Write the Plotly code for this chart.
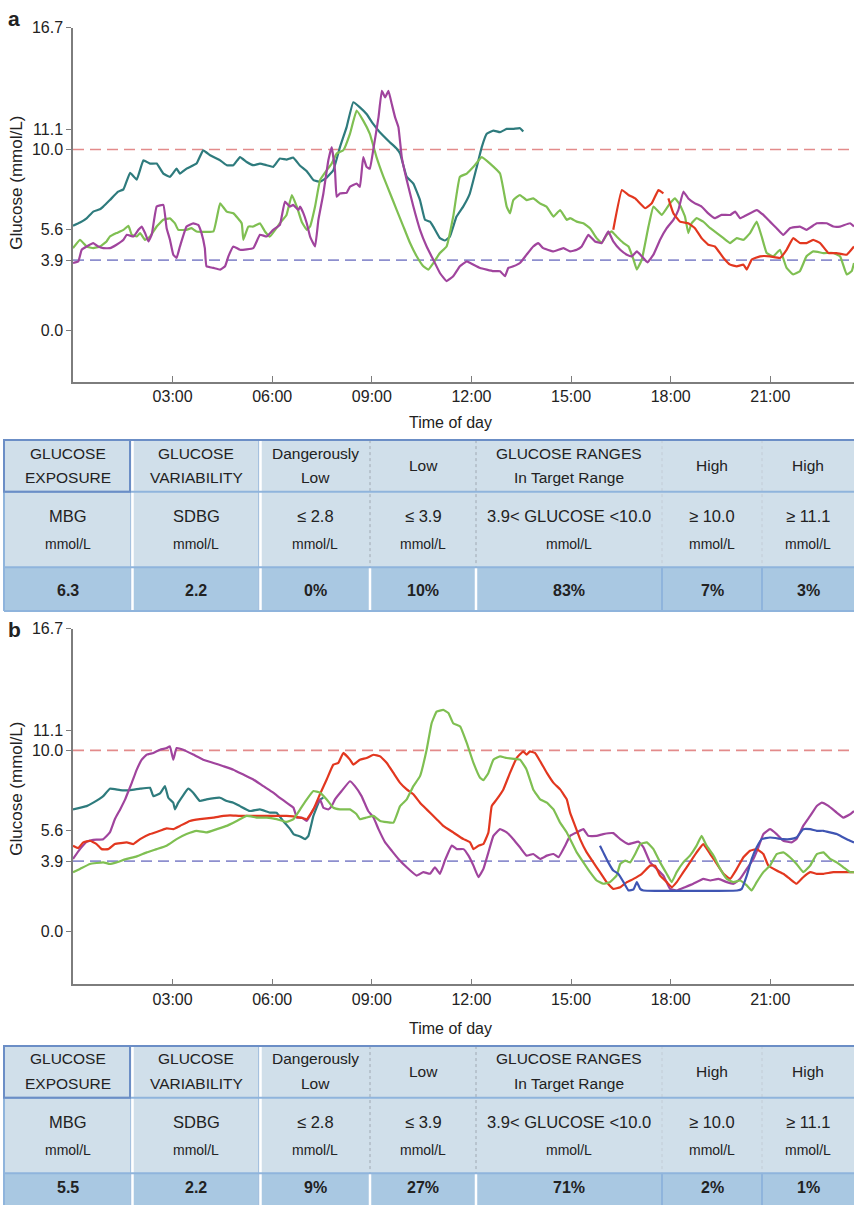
import plotly.graph_objects as go

W, H = 854, 1205
FONT = "Liberation Sans, Arial, Helvetica, sans-serif"

# ---------------- panel a: CGM traces (hour of day, mmol/L) ----------------
A_TEAL_T = [0.0, 0.21, 0.41, 0.61, 0.81, 0.91, 1.11, 1.36, 1.52, 1.72, 1.92, 2.12, 2.32, 2.52, 2.72,
            2.92, 3.12, 3.22, 3.42, 3.72, 3.92, 4.13, 4.43, 4.63, 4.83, 5.03, 5.23, 5.43, 5.63, 5.83,
            6.03, 6.23, 6.43, 6.63, 6.84, 7.04, 7.24, 7.44, 7.64, 7.84, 8.04, 8.24, 8.44, 8.64, 8.84,
            9.04, 9.24, 9.54, 9.75, 9.85, 10.05, 10.25, 10.45, 10.6, 10.75, 10.85, 11.05, 11.2, 11.35,
            11.55, 11.75, 11.95, 12.16, 12.31, 12.46, 12.66, 12.86, 13.06, 13.26, 13.46, 13.56]
A_TEAL_G = [5.8, 5.97, 6.2, 6.57, 6.7, 6.85, 7.21, 7.67, 7.8, 8.71, 8.34, 9.4, 9.22, 9.22, 8.67,
            8.49, 8.94, 8.67, 8.94, 9.22, 9.95, 9.68, 9.4, 9.13, 9.13, 9.58, 9.31, 9.13, 9.22, 9.13,
            9.04, 9.5, 9.44, 9.55, 9.1, 8.8, 8.31, 8.22, 8.45, 8.85, 10.13, 11.23, 12.6, 12.32, 11.95,
            11.41, 10.95, 10.4, 10.04, 9.77, 8.49, 8.12, 7.21, 6.12, 6.02, 5.75, 5.11, 4.98, 5.2,
            6.3, 6.85, 7.57, 9.04, 10.13, 10.86, 11.04, 10.95, 11.13, 11.13, 11.17, 10.99]

A_GREEN_T = [0.0, 0.21, 0.41, 0.61, 0.81, 1.01, 1.11, 1.31, 1.52, 1.67, 1.77, 1.92, 2.02, 2.17, 2.32,
             2.52, 2.72, 2.92, 3.07, 3.17, 3.42, 3.57, 3.72, 4.23, 4.43, 4.63, 4.83, 5.08, 5.13, 5.28,
             5.43, 5.63, 5.78, 5.93, 6.23, 6.43, 6.59, 6.74, 6.89, 7.04, 7.14, 7.29, 7.44, 7.64, 7.79,
             7.94, 8.14, 8.34, 8.54, 8.74, 8.94, 9.14, 9.35, 9.55, 9.75, 9.95, 10.15, 10.35, 10.55,
             10.7, 10.85, 11.05, 11.25, 11.45, 11.65, 11.86, 12.06, 12.31, 12.56, 12.86, 13.06, 13.16,
             13.26, 13.46, 13.66, 13.86, 14.06, 14.26, 14.47, 14.67, 14.87, 14.97, 15.17, 15.37, 15.57,
             15.77, 15.92, 16.07, 16.22, 16.37, 16.58, 16.73, 16.88, 16.98, 17.13, 17.33, 17.48, 17.73,
             17.98, 18.13, 18.28, 18.43, 18.53, 18.63, 18.78, 18.98, 19.19, 19.39, 19.59, 19.79, 19.99,
             20.19, 20.39, 20.59, 20.74, 20.89, 21.09, 21.29, 21.49, 21.69, 21.89, 22.09, 22.29, 22.6,
             22.9, 23.1, 23.3, 23.45, 23.52]
A_GREEN_G = [4.56, 5.02, 4.65, 4.56, 4.65, 4.93, 5.2, 5.39, 5.57, 5.79, 5.3, 5.2, 5.39, 5.02, 5.2,
             5.75, 6.12, 6.2, 5.93, 5.57, 5.57, 5.66, 5.48, 5.48, 7.03, 6.57, 6.48, 5.93, 5.02, 5.75,
             5.75, 5.93, 5.48, 5.2, 5.93, 6.39, 7.49, 6.85, 6.0, 5.57, 5.75, 6.85, 8.31, 8.85, 9.22,
             9.77, 9.95, 10.86, 12.14, 11.59, 10.86, 9.58, 8.49, 7.57, 6.66, 5.75, 4.84, 4.11, 3.56,
             3.38, 3.74, 4.29, 4.65, 6.3, 8.49, 8.67, 9.04, 9.58, 9.22, 8.67, 6.85, 6.48,
             7.21, 7.49, 7.21, 7.3, 7.03, 6.85, 6.3, 6.66, 6.12, 6.21, 6.02, 5.93, 5.66,
             5.11, 4.84, 5.29, 5.48, 5.2, 4.84, 4.65, 3.93, 3.38, 3.93, 5.75, 6.85, 6.39,
             7.03, 7.3, 6.94, 6.3, 5.39, 5.93, 6.21, 6.02, 5.66, 5.39, 5.11, 4.84, 5.11,
             5.02, 5.39, 6.02, 5.2, 4.29, 4.11, 4.47, 3.47, 3.11, 3.29, 4.11, 4.38, 4.29,
             4.29, 4.11, 3.11, 3.29, 3.74]

A_MAGENTA_T = [0.0, 0.16, 0.26, 0.41, 0.61, 0.76, 0.91, 1.11, 1.31, 1.52, 1.62, 1.82, 1.97, 2.07, 2.17,
               2.27, 2.37, 2.52, 2.72, 2.82, 2.92, 3.02, 3.12, 3.22, 3.42, 3.62, 3.77, 3.87, 3.97, 4.02,
               4.23, 4.43, 4.58, 4.68, 4.83, 5.03, 5.43, 5.63, 5.83, 6.03, 6.23, 6.38, 6.53, 6.63, 6.79,
               6.84, 6.94, 7.04, 7.14, 7.29, 7.39, 7.54, 7.69, 7.79, 7.89, 7.94, 8.04, 8.24, 8.34, 8.54,
               8.64, 8.74, 8.84, 8.94, 9.04, 9.2, 9.3, 9.4, 9.5, 9.6, 9.7, 9.8, 9.9, 10.05, 10.25, 10.45,
               10.65, 10.85, 11.05, 11.25, 11.45, 11.65, 11.86, 12.06, 12.26, 12.66, 12.86, 13.01, 13.11,
               13.26, 13.46, 13.66, 13.86, 14.01, 14.16, 14.47, 14.77, 14.97, 15.17, 15.32, 15.52, 15.72,
               15.92, 16.12, 16.27, 16.48, 16.68, 16.83, 16.98, 17.13, 17.3, 17.48, 17.68, 17.88, 18.08,
               18.23, 18.38, 18.53, 18.73, 18.93, 19.13, 19.33, 19.53, 19.79, 19.94, 20.09, 20.29, 20.59,
               20.79, 20.99, 21.19, 21.39, 21.59, 21.89, 22.09, 22.4, 22.7, 22.9, 23.1, 23.4, 23.52]
A_MAGENTA_G = [3.74, 3.83, 4.47, 4.65, 4.84, 4.65, 4.56, 4.56, 4.75, 5.02, 5.3, 5.2, 5.57, 5.75, 5.39,
               4.93, 5.3, 6.85, 6.94, 5.66, 5.02, 4.2, 4.02, 4.65, 5.75, 5.93, 5.84, 5.39, 4.56, 3.56,
               3.47, 3.38, 3.56, 4.11, 4.65, 4.47, 4.56, 5.3, 5.2, 5.57, 5.84, 7.12, 6.85, 6.94, 6.66,
               6.85, 6.48, 5.93, 5.2, 4.65, 6.12, 7.57, 9.4, 10.13, 8.85, 7.39, 7.57, 7.61, 7.94, 8.12,
               7.94, 9.58, 9.04, 8.94, 9.95, 11.77, 13.23, 12.87, 13.23, 12.5, 11.77, 11.23, 9.58, 8.31,
               6.85, 5.57, 4.65, 3.92, 3.19, 2.74, 3.01, 3.56, 3.83, 3.65, 3.47, 3.29, 3.29, 3.01, 3.47,
               3.56, 3.74, 4.2, 4.65, 4.84, 4.56, 4.38, 4.56, 4.38, 4.47, 4.65, 5.29, 4.93,
               4.84, 5.48, 4.93, 4.47, 4.2, 4.11, 4.38, 4.11, 3.78, 4.2, 5.02, 5.66, 6.12,
               6.66, 7.67, 7.3, 7.03, 6.85, 6.48, 6.21, 6.39, 6.39, 6.57, 6.21, 6.39, 6.66,
               6.39, 6.02, 5.66, 5.29, 5.66, 5.75, 5.57, 5.93, 5.93, 5.75, 5.75, 5.93, 5.75]

A_RED_T = [16.27, 16.53, 16.73, 16.93, 17.23, 17.43, 17.63, 17.78, None, 17.93, 18.08, 18.28, 18.53,
           18.73, 18.93, 19.13, 19.33, 19.59, 19.79, 19.99, 20.19, 20.29, 20.44, 20.69, 20.99, 21.29,
           21.49, 21.69, 21.89, 22.09, 22.29, 22.5, 22.75, 23.0, 23.3, 23.52]
A_RED_G = [5.57, 7.76, 7.49, 7.3, 6.76, 7.03, 7.76, 7.58, None, 7.3, 6.48, 6.02, 5.93,
           5.66, 5.11, 4.75, 4.65, 4.02, 3.65, 3.56, 3.65, 3.38, 3.93, 4.11, 4.11, 4.02,
           4.47, 5.11, 4.84, 4.84, 5.02, 4.84, 4.29, 4.29, 4.2, 4.65]

# ---------------- panel b: CGM traces (hour of day, mmol/L) ----------------
B_TEAL_T = [0.0, 0.41, 0.61, 0.91, 1.11, 1.42, 1.72, 2.02, 2.32, 2.42, 2.62, 2.77, 2.87, 3.02, 3.07,
            3.17, 3.47, 3.62, 3.82, 4.02, 4.43, 4.63, 4.83, 5.03, 5.33, 5.63, 5.93, 6.13, 6.33, 6.54,
            6.64, 6.84, 6.99, 7.09, 7.24, 7.44, 7.54]
B_TEAL_G = [6.75, 6.93, 7.12, 7.48, 7.89, 7.81, 7.81, 7.89, 7.94, 7.48, 7.63, 8.03, 7.39, 7.12, 6.75,
            7.12, 7.89, 7.67, 7.21, 7.3, 7.39, 7.21, 7.12, 6.93, 6.66, 6.75, 6.57, 6.57, 6.11, 5.66,
            5.39, 5.26, 5.11, 5.29, 6.39, 7.3, 7.39]

B_MAGENTA_T = [0.0, 0.21, 0.41, 0.61, 0.91, 1.11, 1.26, 1.42, 1.57, 1.67, 1.77, 1.92, 2.07, 2.22, 2.42,
               2.62, 2.82, 2.92, 3.02, 3.12, 3.32, 3.62, 3.92, 4.23, 4.53, 4.83, 5.13, 5.43, 5.73, 6.03,
               6.23, 6.43, 6.64, 6.74, 6.89, 7.04, 7.24, 7.44, 7.54, 7.69, 7.79, 7.89, 8.09, 8.34, 8.49,
               8.69, 8.89, 9.05, 9.2, 9.4, 9.6, 9.8, 10.05, 10.35, 10.55, 10.75, 10.9, 11.05, 11.2,
               11.41, 11.56, 11.76, 11.91, 12.06, 12.21, 12.36, 12.51, 12.66, 12.86, 13.06, 13.26, 13.46,
               13.66, 13.86, 14.07, 14.27, 14.47, 14.62, 14.82, 14.97, 15.17, 15.37, 15.52, 15.77, 15.97,
               16.27, 16.48, 16.73, 17.03, 17.18, 17.38, 17.58, 17.78, 17.98, 18.18, 18.43, 18.68, 18.98,
               19.19, 19.44, 19.69, 19.89, 20.09, 20.29, 20.49, 20.64, 20.79, 20.99, 21.19, 21.39, 21.64,
               21.79, 21.99, 22.2, 22.4, 22.55, 22.75, 23.0, 23.2, 23.4, 23.52]
B_MAGENTA_G = [4.02, 4.56, 4.96, 5.07, 5.11, 5.48, 6.21, 6.75, 7.3, 7.76, 8.21, 8.94, 9.49, 9.77, 9.86,
               10.04, 10.13, 10.22, 9.49, 10.13, 10.04, 9.77, 9.49, 9.31, 9.13, 8.94, 8.67, 8.4, 8.03, 7.67,
               7.39, 7.12, 6.84, 6.3, 6.3, 6.11, 6.75, 7.3, 6.84, 6.75, 6.93, 7.3, 7.76, 8.3, 8.03,
               7.48, 6.66, 6.3, 5.66, 4.93, 4.47, 4.02, 3.56, 3.1, 3.29, 3.2, 3.56, 3.2, 3.93,
               4.75, 4.56, 4.56, 4.2, 3.65, 3.02, 3.47, 4.38, 5.29, 5.66, 5.48, 5.11, 4.66,
               4.2, 4.29, 4.02, 4.2, 4.29, 4.11, 4.75, 5.29, 5.48, 5.66, 5.29, 5.29, 5.39,
               5.44, 5.11, 4.84, 4.97, 4.66, 3.83, 3.47, 3.1, 2.37, 2.28, 2.46, 2.65, 2.92,
               2.83, 2.92, 2.74, 2.65, 2.92, 3.47, 4.02, 4.66, 5.39, 5.66, 5.39, 5.02, 4.93,
               5.11, 5.84, 6.39, 6.94, 7.12, 6.94, 6.57, 6.3, 6.48, 6.66]

B_RED_T = [0.0, 0.16, 0.31, 0.51, 0.71, 0.86, 1.06, 1.26, 1.62, 1.82, 2.02, 2.32, 2.62, 2.82, 3.02,
           3.22, 3.52, 3.82, 4.23, 4.53, 4.73, 5.03, 5.63, 6.43, 6.84, 7.04, 7.24, 7.44, 7.64, 7.84,
           7.99, 8.14, 8.34, 8.44, 8.64, 8.84, 9.05, 9.25, 9.45, 9.65, 9.85, 10.05, 10.25, 10.45, 10.65,
           10.95, 11.15, 11.45, 11.76, 11.96, 12.06, 12.21, 12.36, 12.51, 12.61, 12.76, 12.96, 13.16,
           13.36, 13.56, 13.66, 13.76, 13.91, 14.07, 14.27, 14.47, 14.67, 14.87, 14.97, 15.12, 15.27,
           15.47, 15.67, 15.87, 16.07, 16.27, 16.48, 16.68, 16.88, 17.13, 17.38, 17.53, 17.68, 17.88,
           18.03, 18.18, 18.38, 18.58, 18.78, 18.98, 19.19, 19.39, 19.59, 19.79, 19.99, 20.19, 20.39,
           20.59, 20.79, 20.94, 21.19, 21.39, 21.59, 21.79, 21.99, 22.2, 22.4, 22.6, 22.9, 23.2, 23.52]
B_RED_G = [4.75, 4.62, 4.93, 5.02, 4.84, 4.56, 4.56, 4.84, 4.93, 4.84, 5.11, 5.39, 5.57, 5.7, 5.66,
           5.84, 6.11, 6.21, 6.3, 6.39, 6.42, 6.39, 6.39, 6.39, 6.3, 6.21, 6.75, 7.6, 8.4, 9.22,
           9.31, 9.86, 9.49, 9.22, 9.49, 9.58, 9.76, 9.67, 9.31, 8.76, 8.21, 7.85, 7.58, 7.12, 6.75,
           6.21, 5.84, 5.48, 5.11, 4.93, 4.56, 4.75, 4.84, 5.48, 6.93, 7.3, 7.85, 8.76,
           9.58, 9.95, 9.76, 9.95, 9.86, 9.4, 8.76, 8.21, 7.85, 7.3, 6.57, 5.84, 5.11,
           4.38, 3.83, 3.29, 2.74, 2.37, 2.46, 2.74, 2.92, 3.2, 3.65, 3.65, 3.1, 2.74,
           2.46, 2.74, 3.29, 3.83, 4.38, 4.84, 4.29, 3.74, 3.2, 2.92, 3.47, 4.11, 4.47,
           4.56, 4.29, 3.65, 3.38, 3.2, 2.92, 2.65, 3.01, 3.29, 3.2, 3.2, 3.29, 3.29, 3.29]

B_GREEN_T = [0.0, 0.21, 0.51, 0.91, 1.11, 1.31, 1.62, 1.92, 2.22, 2.52, 2.82, 3.12, 3.42, 3.72, 4.02,
             4.33, 4.63, 4.93, 5.23, 5.53, 5.83, 6.13, 6.43, 6.64, 6.84, 7.04, 7.24, 7.44, 7.64, 7.84,
             8.04, 8.34, 8.54, 8.64, 8.84, 9.05, 9.25, 9.65, 9.85, 10.05, 10.25, 10.45, 10.65, 10.8,
             10.95, 11.15, 11.31, 11.45, 11.66, 11.86, 12.06, 12.26, 12.36, 12.51, 12.66, 12.86, 13.06,
             13.46, 13.66, 13.86, 14.07, 14.27, 14.47, 14.67, 14.87, 15.17, 15.37, 15.57, 15.77, 15.97,
             16.17, 16.37, 16.48, 16.63, 16.78, 16.93, 17.08, 17.28, 17.48, 17.68, 17.88, 18.03, 18.18,
             18.38, 18.58, 18.78, 18.93, 19.08, 19.29, 19.49, 19.69, 19.89, 20.09, 20.29, 20.44, 20.59,
             20.79, 20.99, 21.19, 21.39, 21.59, 21.79, 21.99, 22.2, 22.4, 22.6, 22.8, 23.0, 23.2, 23.4,
             23.52]
B_GREEN_G = [3.29, 3.47, 3.74, 3.83, 3.74, 3.83, 4.02, 4.16, 4.38, 4.56, 4.75, 5.11, 5.39, 5.57, 5.48,
             5.66, 5.84, 6.11, 6.39, 6.3, 6.3, 6.21, 6.06, 6.21, 6.75, 7.3, 7.76, 7.67, 7.3, 6.84,
             6.75, 6.75, 6.48, 6.21, 6.3, 6.39, 6.11, 6.02, 6.93, 7.3, 8.03, 8.58, 10.04, 11.5,
             12.14, 12.23, 12.05, 11.5, 11.32, 10.4, 9.31, 8.49, 8.36, 8.76, 9.49, 9.67, 9.58,
             9.49, 8.94, 7.85, 7.3, 7.12, 6.75, 6.02, 5.48, 4.38, 3.83, 3.29, 2.83, 2.65,
             2.74, 3.1, 3.74, 3.93, 3.83, 4.29, 4.84, 4.93, 4.56, 3.83, 3.2, 2.74, 3.29,
             3.83, 4.2, 4.75, 5.29, 4.75, 4.2, 3.47, 2.92, 2.74, 2.83, 2.56, 2.28, 2.74,
             3.29, 3.65, 4.29, 4.38, 4.11, 3.74, 3.29, 3.65, 4.29, 4.38, 4.02, 3.83, 3.56, 3.29,
             3.29]

B_BLUE_T = [15.87, 15.97, 16.12, 16.27, 16.42, 16.58, 16.73, 16.88, 16.98, 17.08, 17.18, 20.0, 20.14,
            20.29, 20.44, 20.59, 20.74, 20.99, 21.39, 21.59, 21.79, 21.99, 22.2, 22.4, 22.6, 22.8,
            23.0, 23.2, 23.4, 23.52]
B_BLUE_G = [4.75, 4.38, 3.83, 3.38, 3.2, 2.74, 2.28, 2.34, 2.74, 2.37, 2.28, 2.28, 2.37,
            3.1, 4.02, 4.66, 5.11, 5.2, 5.11, 5.11, 5.2, 5.66, 5.66, 5.57, 5.57, 5.48,
            5.39, 5.2, 5.02, 4.93]

# ---------------- axes ----------------
X_TICKS = [3, 6, 9, 12, 15, 18, 21]
X_TICK_TEXT = ["03:00", "06:00", "09:00", "12:00", "15:00", "18:00", "21:00"]
Y_TICKS = [0.0, 3.9, 5.6, 10.0, 11.1, 16.7]
Y_TICK_TEXT = ["0.0", "3.9", "5.6", "10.0", "11.1", "16.7"]
LOW_LIMIT = 3.9
HIGH_LIMIT = 10.0

# ---------------- summary tables ----------------
HEAD_TEXT = [["GLUCOSE", "EXPOSURE"], ["GLUCOSE", "VARIABILITY"], ["Dangerously", "Low"], ["Low"],
             ["GLUCOSE RANGES", "In Target Range"], ["High"], ["High"]]
RANGE_TEXT = ["MBG", "SDBG", "\u2264 2.8", "\u2264 3.9", "3.9< GLUCOSE <10.0", "\u2265 10.0", "\u2265 11.1"]
UNIT_TEXT = ["mmol/L"] * 7
A_STATS = ["6.3", "2.2", "0%", "10%", "83%", "7%", "3%"]
B_STATS = ["5.5", "2.2", "9%", "27%", "71%", "2%", "1%"]

COLORS = {"teal": "#2e7b7d", "green": "#7fbf52", "magenta": "#a0449d", "red": "#e2371f", "blue": "#3f55b3"}
CELL_FILL = "#d0dfea"
VALUE_FILL = "#a9c8e2"
RULE = "#8fb4dc"
TOP_RULE = "#6b8ec6"

COL_EDGES = [4, 132, 260, 370, 476, 662, 762, 854]


def fx(x):
    return x / W


def fy(y):
    return 1 - y / H


fig = go.Figure()

panels = [
    ("x", "y", [(A_TEAL_T, A_TEAL_G, "teal"), (A_GREEN_T, A_GREEN_G, "green"),
                (A_MAGENTA_T, A_MAGENTA_G, "magenta"), (A_RED_T, A_RED_G, "red")]),
    ("x2", "y2", [(B_TEAL_T, B_TEAL_G, "teal"), (B_MAGENTA_T, B_MAGENTA_G, "magenta"),
                  (B_RED_T, B_RED_G, "red"), (B_GREEN_T, B_GREEN_G, "green"),
                  (B_BLUE_T, B_BLUE_G, "blue")]),
]
for xa, ya, series in panels:
    for t, g, c in series:
        fig.add_trace(go.Scatter(x=t, y=g, mode="lines", xaxis=xa, yaxis=ya,
                                 line=dict(color=COLORS[c], width=2.2, shape="spline", smoothing=0.3),
                                 connectgaps=False, showlegend=False, hoverinfo="skip"))

shapes = []
annotations = []

# glucose threshold lines
for xa, ya in (("x", "y"), ("x2", "y2")):
    for level, col in ((HIGH_LIMIT, "#e38b8b"), (LOW_LIMIT, "#8d8fce")):
        shapes.append(dict(type="line", xref=f"{xa} domain", yref=ya, x0=0, x1=1, y0=level, y1=level,
                           line=dict(color=col, width=1.6, dash="11px,6px"), layer="below"))

axis_common = dict(showline=True, linecolor="#7d7d7d", linewidth=1.5, showgrid=False, zeroline=False,
                   tickfont=dict(family=FONT, size=16, color="#222"), tickcolor="#7d7d7d")
xcommon = dict(axis_common, range=[0, 23.52], tickmode="array", tickvals=X_TICKS, ticktext=X_TICK_TEXT,
               ticks="inside", ticklen=6, domain=[fx(73), 1.0])
ycommon = dict(axis_common, tickmode="array", tickvals=Y_TICKS, ticktext=Y_TICK_TEXT,
               ticks="outside", ticklen=5)

fig.update_layout(
    width=W, height=H, margin=dict(l=0, r=0, t=0, b=0),
    paper_bgcolor="white", plot_bgcolor="white",
    xaxis=dict(xcommon, anchor="y"),
    yaxis=dict(ycommon, anchor="x", range=[-2.79, 16.7], domain=[fy(376), fy(20)]),
    xaxis2=dict(xcommon, anchor="y2"),
    yaxis2=dict(ycommon, anchor="x2", range=[-2.9, 16.7], domain=[fy(983), fy(625)]),
)


def text(x, y, s, size, bold=False, angle=0):
    annotations.append(dict(x=fx(x), y=fy(y), xref="paper", yref="paper", text=s, showarrow=False,
                            xanchor="center", yanchor="middle", textangle=angle,
                            font=dict(family=FONT, size=size, color="#222",
                                      weight="bold" if bold else "normal")))


# panel letters and axis titles
for off, letter in ((0, "a"), (615, "b")):
    text(14, 11 + off, letter, 21, bold=True)
text(17, 176, "Glucose (mmol/L)", 17, angle=-90)
text(17, 786, "Glucose (mmol/L)", 17, angle=-90)
text(450, 417, "Time of day", 16)
text(450, 1027, "Time of day", 16)


def line(x0, y0, x1, y1, color, width, dash="solid"):
    shapes.append(dict(type="line", xref="paper", yref="paper", x0=fx(x0), y0=fy(y0), x1=fx(x1), y1=fy(y1),
                       line=dict(color=color, width=width, dash=dash)))


def draw_table(top, r1, r2, bottom, value_y, stats):
    left, right = COL_EDGES[0], COL_EDGES[-1]
    shapes.append(dict(type="rect", xref="paper", yref="paper", x0=fx(left), x1=fx(right + 2),
                       y0=fy(r2), y1=fy(top), fillcolor=CELL_FILL, line=dict(width=0), layer="below"))
    shapes.append(dict(type="rect", xref="paper", yref="paper", x0=fx(left), x1=fx(right + 2),
                       y0=fy(bottom), y1=fy(r2), fillcolor=VALUE_FILL, line=dict(width=0), layer="below"))
    # column separators
    for i, x in enumerate(COL_EDGES[1:-1], start=1):
        if i in (1, 2):
            line(x - 1.5, top, x - 1.5, bottom, "#a5c1df", 1)
            line(x + 0.5, top, x + 0.5, bottom, "white", 2.5)
        elif i in (3, 4):
            line(x, top, x, r2, "#9fa8b2", 1, "dot")
            line(x, r2, x, bottom, "white", 2.5)
        else:
            line(x, top, x, r2, "#c2ccd6", 1, "dot")
            line(x, r2, x, bottom, RULE, 2)
    # row rules and border
    line(left, r1, right + 2, r1, RULE, 2)
    line(left, r2, right + 2, r2, RULE, 2)
    line(left, bottom, right + 2, bottom, RULE, 2)
    line(left, top, left, bottom, RULE, 2)
    line(left, top, right + 2, top, TOP_RULE, 2)
    shapes.append(dict(type="rect", xref="paper", yref="paper", x0=fx(left), x1=fx(COL_EDGES[1] - 2),
                       y0=fy(r1), y1=fy(top), line=dict(color=TOP_RULE, width=2)))
    # cell text
    for i in range(7):
        cx = (COL_EDGES[i] + COL_EDGES[i + 1]) / 2
        head = HEAD_TEXT[i]
        if len(head) == 2:
            text(cx, top + 13, head[0], 15.5)
            text(cx, top + 38, head[1], 15.5)
        else:
            text(cx, top + 26, head[0], 15.5)
        text(cx, top + 76, RANGE_TEXT[i], 16.5)
        text(cx, top + 105, UNIT_TEXT[i], 14)
        text(cx, value_y, stats[i], 16, bold=True)


draw_table(435, 487, 563, 607, 586, A_STATS)
draw_table(1045, 1097, 1173, 1210, 1187, B_STATS)

fig.update_layout(shapes=shapes, annotations=annotations)
fig.write_html("out.html")
